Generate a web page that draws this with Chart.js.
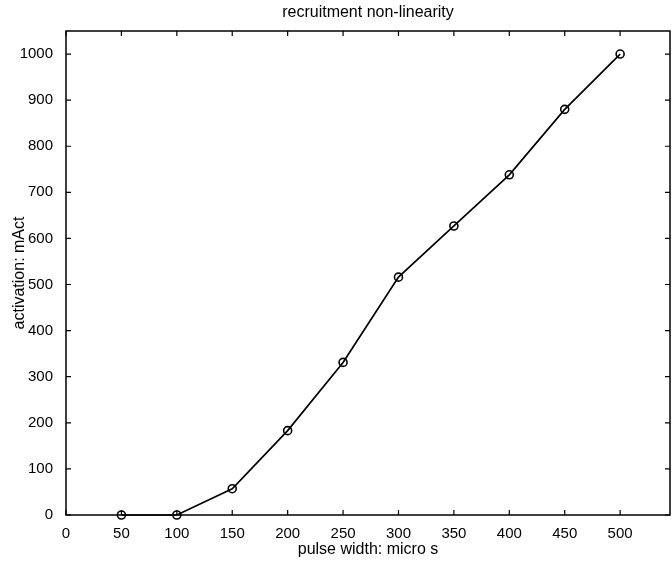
<!DOCTYPE html>
<html>
<head>
<meta charset="utf-8">
<script src="https://cdn.jsdelivr.net/npm/chart.js@4.4.0/dist/chart.umd.min.js"></script>
<style>
  html, body { margin: 0; padding: 0; background: #fff; }
  #wrap { width: 672px; height: 561px; }
</style>
</head>
<body>
<div id="wrap"><canvas id="myChart" width="672" height="561"></canvas></div>
<script>
// data
const pulseWidth = [50, 100, 150, 200, 250, 300, 350, 400, 450, 500];
const activation = [0, 0, 57, 183, 331, 516, 627, 738, 880, 1000];
const xTicks = [0, 50, 100, 150, 200, 250, 300, 350, 400, 450, 500];
const yTicks = [0, 100, 200, 300, 400, 500, 600, 700, 800, 900, 1000];
const chartTitle = "recruitment non-linearity";

const FONT = "'Liberation Sans', Arial, Helvetica, sans-serif";

// matlab style box with inward ticks on all four sides, title over the axes box
const boxTicks = {
  id: "boxTicks",
  afterDraw(chart) {
    const c = chart.ctx;
    const a = chart.chartArea;
    const xs = chart.scales.x;
    const ys = chart.scales.y;
    const len = 5;
    c.save();
    c.strokeStyle = "#000";
    c.lineWidth = 1.5;
    c.strokeRect(a.left, a.top, a.right - a.left, a.bottom - a.top);
    c.lineWidth = 1.2;
    c.beginPath();
    xTicks.forEach(function (v) {
      const px = xs.getPixelForValue(v);
      c.moveTo(px, a.bottom); c.lineTo(px, a.bottom - len);
      c.moveTo(px, a.top); c.lineTo(px, a.top + len);
    });
    yTicks.forEach(function (v) {
      const py = ys.getPixelForValue(v);
      c.moveTo(a.left, py); c.lineTo(a.left + len, py);
      c.moveTo(a.right, py); c.lineTo(a.right - len, py);
    });
    c.stroke();

    // title
    c.fillStyle = "#000";
    c.font = "16px " + FONT;
    c.textAlign = "center";
    c.textBaseline = "middle";
    c.fillText(chartTitle, (a.left + a.right) / 2, 13);
    c.restore();
  }
};

const ctx = document.getElementById("myChart");
new Chart(ctx, {
  type: "line",
  data: {
    datasets: [
      {
        data: pulseWidth.map((x, i) => ({ x: x, y: activation[i] })),
        borderColor: "#000",
        borderWidth: 1.7,
        pointStyle: "circle",
        pointRadius: 4,
        pointBorderWidth: 1.6,
        pointBorderColor: "#000",
        pointBackgroundColor: "rgba(0,0,0,0)",
        tension: 0,
        fill: false,
        clip: false,
      },
    ],
  },
  options: {
    responsive: false,
    animation: false,
    layout: { autoPadding: false, padding: { top: 31, right: 2, left: 0, bottom: 0 } },
    plugins: {
      legend: { display: false },
      tooltip: { enabled: false },
      title: { display: false },
    },
    scales: {
      x: {
        type: "linear",
        min: 0,
        max: 545,
        afterBuildTicks: (scale) => { scale.ticks = xTicks.map((v) => ({ value: v })); },
        afterFit: (scale) => { scale.height = 46; },
        grid: { display: false },
        border: { display: false },
        ticks: {
          color: "#000",
          font: { family: FONT, size: 15 },
          padding: 2,
          maxRotation: 0,
          autoSkip: false,
          callback: (v) => String(v),
        },
        title: {
          display: true,
          text: "pulse width: micro s",
          color: "#000",
          font: { family: FONT, size: 16 },
          padding: { top: 0, bottom: 1.5 },
        },
      },
      y: {
        type: "linear",
        min: 0,
        max: 1050,
        afterBuildTicks: (scale) => { scale.ticks = yTicks.map((v) => ({ value: v })); },
        afterFit: (scale) => { scale.width = 66; },
        grid: { display: false },
        border: { display: false },
        ticks: {
          color: "#000",
          font: { family: FONT, size: 15 },
          padding: 5,
          autoSkip: false,
          callback: (v) => String(v),
        },
        title: {
          display: true,
          text: "activation: mAct",
          color: "#000",
          font: { family: FONT, size: 16 },
          padding: { top: 10, bottom: 0 },
        },
      },
    },
  },
  plugins: [boxTicks],
});
</script>
</body>
</html>
